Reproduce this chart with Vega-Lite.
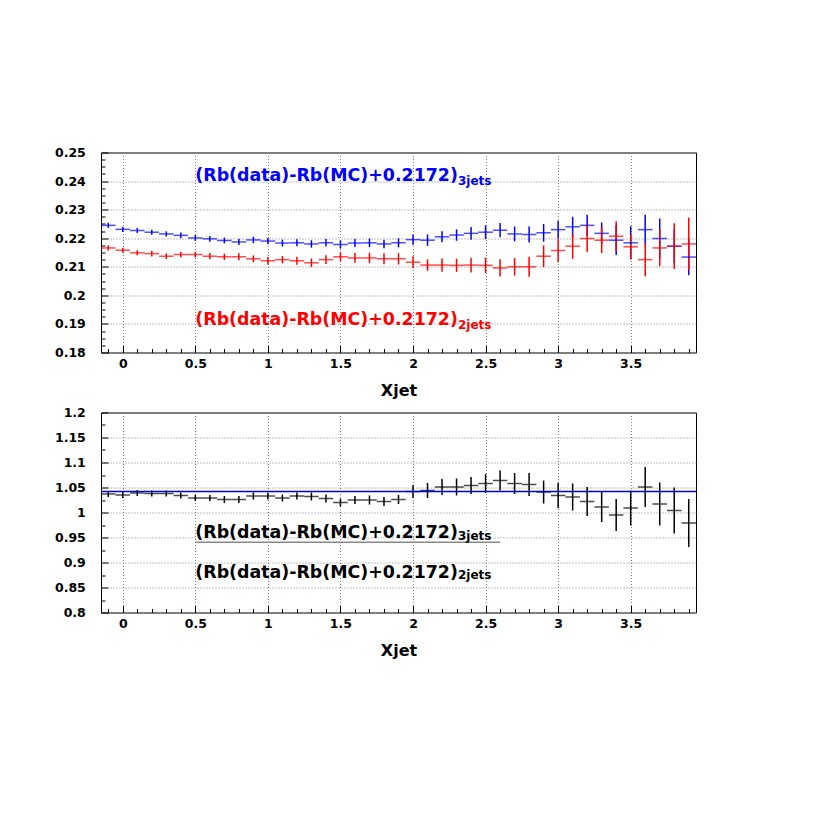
{
  "$schema": "https://vega.github.io/schema/vega-lite/v6.json",
  "background": "white",
  "padding": {"left": 53, "top": 145.5, "right": 5, "bottom": 5},
  "spacing": 60,
  "bounds": "flush",
  "config": {
    "view": {"stroke": "black", "strokeWidth": 1},
    "axis": {
      "domain": false,
      "labelFont": "DejaVu Sans",
      "labelFontWeight": "bold",
      "labelFontSize": 12.5,
      "labelColor": "black",
      "tickColor": "black",
      "tickWidth": 1,
      "gridColor": "#808080",
      "gridDash": [1, 2],
      "gridWidth": 1,
      "titleFont": "DejaVu Sans",
      "titleFontWeight": "bold",
      "titleFontSize": 16,
      "titleColor": "black",
      "labelOverlap": false,
      "labelBound": false,
      "labelFlush": false,
      "format": "~g"
    }
  },
  "datasets": {
    "top": [
      {"x": -0.1, "s": "3jets", "y": 0.2245, "e": 0.0009},
      {"x": 0.0, "s": "3jets", "y": 0.2231, "e": 0.0009},
      {"x": 0.1, "s": "3jets", "y": 0.2227, "e": 0.0009},
      {"x": 0.2, "s": "3jets", "y": 0.2221, "e": 0.0009},
      {"x": 0.3, "s": "3jets", "y": 0.2215, "e": 0.0009},
      {"x": 0.4, "s": "3jets", "y": 0.2210, "e": 0.001},
      {"x": 0.5, "s": "3jets", "y": 0.2201, "e": 0.001},
      {"x": 0.6, "s": "3jets", "y": 0.2198, "e": 0.001},
      {"x": 0.7, "s": "3jets", "y": 0.2192, "e": 0.001},
      {"x": 0.8, "s": "3jets", "y": 0.2187, "e": 0.0011},
      {"x": 0.9, "s": "3jets", "y": 0.2194, "e": 0.0011},
      {"x": 1.0, "s": "3jets", "y": 0.2190, "e": 0.0011},
      {"x": 1.1, "s": "3jets", "y": 0.2183, "e": 0.0012},
      {"x": 1.2, "s": "3jets", "y": 0.2184, "e": 0.0012},
      {"x": 1.3, "s": "3jets", "y": 0.2180, "e": 0.0013},
      {"x": 1.4, "s": "3jets", "y": 0.2184, "e": 0.0013},
      {"x": 1.5, "s": "3jets", "y": 0.2178, "e": 0.0014},
      {"x": 1.6, "s": "3jets", "y": 0.2183, "e": 0.0014},
      {"x": 1.7, "s": "3jets", "y": 0.2184, "e": 0.0015},
      {"x": 1.8, "s": "3jets", "y": 0.2180, "e": 0.0015},
      {"x": 1.9, "s": "3jets", "y": 0.2184, "e": 0.0016},
      {"x": 2.0, "s": "3jets", "y": 0.2195, "e": 0.0018},
      {"x": 2.1, "s": "3jets", "y": 0.2193, "e": 0.002},
      {"x": 2.2, "s": "3jets", "y": 0.2205, "e": 0.0019},
      {"x": 2.3, "s": "3jets", "y": 0.2211, "e": 0.002},
      {"x": 2.4, "s": "3jets", "y": 0.2217, "e": 0.0022},
      {"x": 2.5, "s": "3jets", "y": 0.2221, "e": 0.0024},
      {"x": 2.6, "s": "3jets", "y": 0.2228, "e": 0.0025},
      {"x": 2.7, "s": "3jets", "y": 0.2215, "e": 0.0026},
      {"x": 2.8, "s": "3jets", "y": 0.2213, "e": 0.0028},
      {"x": 2.9, "s": "3jets", "y": 0.2219, "e": 0.0031},
      {"x": 3.0, "s": "3jets", "y": 0.2230, "e": 0.0031},
      {"x": 3.1, "s": "3jets", "y": 0.2240, "e": 0.0035},
      {"x": 3.2, "s": "3jets", "y": 0.2245, "e": 0.0037},
      {"x": 3.3, "s": "3jets", "y": 0.2217, "e": 0.0038},
      {"x": 3.4, "s": "3jets", "y": 0.2193, "e": 0.0052},
      {"x": 3.5, "s": "3jets", "y": 0.2184, "e": 0.0058},
      {"x": 3.6, "s": "3jets", "y": 0.2230, "e": 0.0052},
      {"x": 3.7, "s": "3jets", "y": 0.2199, "e": 0.007},
      {"x": 3.8, "s": "3jets", "y": 0.2172, "e": 0.0058},
      {"x": 3.9, "s": "3jets", "y": 0.2134, "e": 0.0063},
      {"x": -0.1, "s": "2jets", "y": 0.2166, "e": 0.0009},
      {"x": 0.0, "s": "2jets", "y": 0.2158, "e": 0.0009},
      {"x": 0.1, "s": "2jets", "y": 0.2149, "e": 0.0009},
      {"x": 0.2, "s": "2jets", "y": 0.2146, "e": 0.001},
      {"x": 0.3, "s": "2jets", "y": 0.2137, "e": 0.001},
      {"x": 0.4, "s": "2jets", "y": 0.2143, "e": 0.001},
      {"x": 0.5, "s": "2jets", "y": 0.2143, "e": 0.001},
      {"x": 0.6, "s": "2jets", "y": 0.2137, "e": 0.0011},
      {"x": 0.7, "s": "2jets", "y": 0.2135, "e": 0.0011},
      {"x": 0.8, "s": "2jets", "y": 0.2135, "e": 0.0012},
      {"x": 0.9, "s": "2jets", "y": 0.2128, "e": 0.0012},
      {"x": 1.0, "s": "2jets", "y": 0.2121, "e": 0.0013},
      {"x": 1.1, "s": "2jets", "y": 0.2125, "e": 0.0013},
      {"x": 1.2, "s": "2jets", "y": 0.2121, "e": 0.0014},
      {"x": 1.3, "s": "2jets", "y": 0.2114, "e": 0.0015},
      {"x": 1.4, "s": "2jets", "y": 0.2125, "e": 0.0015},
      {"x": 1.5, "s": "2jets", "y": 0.2135, "e": 0.0016},
      {"x": 1.6, "s": "2jets", "y": 0.2131, "e": 0.0017},
      {"x": 1.7, "s": "2jets", "y": 0.2131, "e": 0.0018},
      {"x": 1.8, "s": "2jets", "y": 0.2128, "e": 0.0019},
      {"x": 1.9, "s": "2jets", "y": 0.2128, "e": 0.002},
      {"x": 2.0, "s": "2jets", "y": 0.2116, "e": 0.0021},
      {"x": 2.1, "s": "2jets", "y": 0.2106, "e": 0.002},
      {"x": 2.2, "s": "2jets", "y": 0.2106, "e": 0.0023},
      {"x": 2.3, "s": "2jets", "y": 0.2105, "e": 0.0023},
      {"x": 2.4, "s": "2jets", "y": 0.2106, "e": 0.0026},
      {"x": 2.5, "s": "2jets", "y": 0.2105, "e": 0.0027},
      {"x": 2.6, "s": "2jets", "y": 0.2096, "e": 0.003},
      {"x": 2.7, "s": "2jets", "y": 0.2100, "e": 0.0031},
      {"x": 2.8, "s": "2jets", "y": 0.2100, "e": 0.0035},
      {"x": 2.9, "s": "2jets", "y": 0.2137, "e": 0.0038},
      {"x": 3.0, "s": "2jets", "y": 0.2157, "e": 0.0041},
      {"x": 3.1, "s": "2jets", "y": 0.2172, "e": 0.0044},
      {"x": 3.2, "s": "2jets", "y": 0.2199, "e": 0.0047},
      {"x": 3.3, "s": "2jets", "y": 0.2193, "e": 0.0045},
      {"x": 3.4, "s": "2jets", "y": 0.2207, "e": 0.0052},
      {"x": 3.5, "s": "2jets", "y": 0.2170, "e": 0.0044},
      {"x": 3.6, "s": "2jets", "y": 0.2125, "e": 0.0058},
      {"x": 3.7, "s": "2jets", "y": 0.2166, "e": 0.0064},
      {"x": 3.8, "s": "2jets", "y": 0.2172, "e": 0.008},
      {"x": 3.9, "s": "2jets", "y": 0.2180, "e": 0.0092}
    ],
    "ratio": [
      {"x": -0.1, "y": 1.037, "e": 0.006},
      {"x": 0.0, "y": 1.035, "e": 0.006},
      {"x": 0.1, "y": 1.039, "e": 0.006},
      {"x": 0.2, "y": 1.038, "e": 0.006},
      {"x": 0.3, "y": 1.038, "e": 0.006},
      {"x": 0.4, "y": 1.034, "e": 0.006},
      {"x": 0.5, "y": 1.029, "e": 0.006},
      {"x": 0.6, "y": 1.029, "e": 0.006},
      {"x": 0.7, "y": 1.026, "e": 0.007},
      {"x": 0.8, "y": 1.026, "e": 0.007},
      {"x": 0.9, "y": 1.033, "e": 0.007},
      {"x": 1.0, "y": 1.033, "e": 0.007},
      {"x": 1.1, "y": 1.029, "e": 0.007},
      {"x": 1.2, "y": 1.033, "e": 0.007},
      {"x": 1.3, "y": 1.032, "e": 0.008},
      {"x": 1.4, "y": 1.028, "e": 0.008},
      {"x": 1.5, "y": 1.020, "e": 0.008},
      {"x": 1.6, "y": 1.025, "e": 0.008},
      {"x": 1.7, "y": 1.025, "e": 0.009},
      {"x": 1.8, "y": 1.022, "e": 0.009},
      {"x": 1.9, "y": 1.026, "e": 0.009},
      {"x": 2.0, "y": 1.042, "e": 0.013},
      {"x": 2.1, "y": 1.044, "e": 0.015},
      {"x": 2.2, "y": 1.051, "e": 0.016},
      {"x": 2.3, "y": 1.051, "e": 0.017},
      {"x": 2.4, "y": 1.054, "e": 0.017},
      {"x": 2.5, "y": 1.058, "e": 0.019},
      {"x": 2.6, "y": 1.064, "e": 0.02},
      {"x": 2.7, "y": 1.058, "e": 0.021},
      {"x": 2.8, "y": 1.056, "e": 0.023},
      {"x": 2.9, "y": 1.041, "e": 0.023},
      {"x": 3.0, "y": 1.034, "e": 0.025},
      {"x": 3.1, "y": 1.031, "e": 0.027},
      {"x": 3.2, "y": 1.022, "e": 0.029},
      {"x": 3.3, "y": 1.011, "e": 0.03},
      {"x": 3.4, "y": 0.995, "e": 0.032},
      {"x": 3.5, "y": 1.009, "e": 0.035},
      {"x": 3.6, "y": 1.051, "e": 0.04},
      {"x": 3.7, "y": 1.017, "e": 0.043},
      {"x": 3.8, "y": 1.004, "e": 0.046},
      {"x": 3.9, "y": 0.979, "e": 0.048}
    ]
  },
  "vconcat": [
    {
      "width": 595,
      "height": 200,
      "resolve": {"axis": {"x": "independent", "y": "independent"}},
      "layer": [
        {
          "data": {"name": "top"},
          "mark": {"type": "errorbar", "thickness": 1.5},
          "encoding": {
            "x": {
              "field": "x", "type": "quantitative",
              "scale": {"domain": [-0.15, 3.95], "nice": false, "zero": false},
              "axis": {"orient": "bottom", "title": "Xjet", "titlePadding": 12, "labelPadding": 12, "tickSize": -7, "grid": true,
                "values": [0, 0.5, 1, 1.5, 2, 2.5, 3, 3.5]}
            },
            "y": {
              "field": "y", "type": "quantitative",
              "scale": {"domain": [0.18, 0.25], "nice": false, "zero": false},
              "axis": {"orient": "left", "title": null, "labelPadding": 22.7, "tickSize": -7, "grid": true,
                "values": [0.18, 0.19, 0.2, 0.21, 0.22, 0.23, 0.24, 0.25]}
            },
            "yError": {"field": "e"},
            "color": {"field": "s", "type": "nominal", "scale": {"domain": ["3jets", "2jets"], "range": ["#0000ff", "#ff0000"]}, "legend": null}
          }
        },
        {
          "data": {"name": "top"},
          "mark": {"type": "tick", "orient": "horizontal", "size": 14.5, "thickness": 1.5},
          "encoding": {
            "x": {"field": "x", "type": "quantitative",
              "axis": {"orient": "bottom", "title": null, "labels": false, "grid": false, "tickSize": -4,
                "values": [-0.1, 0.1, 0.2, 0.3, 0.4, 0.6, 0.7, 0.8, 0.9, 1.1, 1.2, 1.3, 1.4, 1.6, 1.7, 1.8, 1.9, 2.1, 2.2, 2.3, 2.4, 2.6, 2.7, 2.8, 2.9, 3.1, 3.2, 3.3, 3.4, 3.6, 3.7, 3.8, 3.9]}},
            "y": {"field": "y", "type": "quantitative",
              "axis": {"orient": "left", "title": null, "labels": false, "grid": false, "tickSize": -4,
                "values": [0.1825, 0.185, 0.1875, 0.1925, 0.195, 0.1975, 0.2025, 0.205, 0.2075, 0.2125, 0.215, 0.2175, 0.2225, 0.225, 0.2275, 0.2325, 0.235, 0.2375, 0.2425, 0.245, 0.2475]}},
            "color": {"field": "s", "type": "nominal", "legend": null}
          }
        },
        {
          "data": {"values": [{"x": 0.5, "y": 0.24, "t": "(Rb(data)-Rb(MC)+0.2172)"}]},
          "mark": {"type": "text", "align": "left", "baseline": "alphabetic", "font": "DejaVu Sans", "fontWeight": "bold", "fontSize": 17.4, "color": "#0000ff"},
          "encoding": {"x": {"field": "x", "type": "quantitative", "axis": null}, "y": {"field": "y", "type": "quantitative", "axis": null}, "text": {"field": "t"}}
        },
        {
          "data": {"values": [{"x": 2.31, "y": 0.2385, "t": "3jets"}]},
          "mark": {"type": "text", "align": "left", "baseline": "alphabetic", "font": "DejaVu Sans", "fontWeight": "bold", "fontSize": 12, "color": "#0000ff"},
          "encoding": {"x": {"field": "x", "type": "quantitative", "axis": null}, "y": {"field": "y", "type": "quantitative", "axis": null}, "text": {"field": "t"}}
        },
        {
          "data": {"values": [{"x": 0.5, "y": 0.1896, "t": "(Rb(data)-Rb(MC)+0.2172)"}]},
          "mark": {"type": "text", "align": "left", "baseline": "alphabetic", "font": "DejaVu Sans", "fontWeight": "bold", "fontSize": 17.4, "color": "#ff0000"},
          "encoding": {"x": {"field": "x", "type": "quantitative", "axis": null}, "y": {"field": "y", "type": "quantitative", "axis": null}, "text": {"field": "t"}}
        },
        {
          "data": {"values": [{"x": 2.31, "y": 0.1883, "t": "2jets"}]},
          "mark": {"type": "text", "align": "left", "baseline": "alphabetic", "font": "DejaVu Sans", "fontWeight": "bold", "fontSize": 12, "color": "#ff0000"},
          "encoding": {"x": {"field": "x", "type": "quantitative", "axis": null}, "y": {"field": "y", "type": "quantitative", "axis": null}, "text": {"field": "t"}}
        }
      ]
    },
    {
      "width": 595,
      "height": 200,
      "resolve": {"axis": {"x": "independent", "y": "independent"}},
      "layer": [
        {
          "data": {"name": "ratio"},
          "mark": {"type": "errorbar", "thickness": 1.5, "color": "black"},
          "encoding": {
            "x": {
              "field": "x", "type": "quantitative",
              "scale": {"domain": [-0.15, 3.95], "nice": false, "zero": false},
              "axis": {"orient": "bottom", "title": "Xjet", "titlePadding": 12, "labelPadding": 12, "tickSize": -7, "grid": true,
                "values": [0, 0.5, 1, 1.5, 2, 2.5, 3, 3.5]}
            },
            "y": {
              "field": "y", "type": "quantitative",
              "scale": {"domain": [0.8, 1.2], "nice": false, "zero": false},
              "axis": {"orient": "left", "title": null, "labelPadding": 22.7, "tickSize": -7, "grid": true,
                "values": [0.8, 0.85, 0.9, 0.95, 1, 1.05, 1.1, 1.15, 1.2]}
            },
            "yError": {"field": "e"}
          }
        },
        {
          "data": {"name": "ratio"},
          "mark": {"type": "tick", "orient": "horizontal", "size": 14.5, "thickness": 1.5, "color": "black"},
          "encoding": {
            "x": {"field": "x", "type": "quantitative",
              "axis": {"orient": "bottom", "title": null, "labels": false, "grid": false, "tickSize": -4,
                "values": [-0.1, 0.1, 0.2, 0.3, 0.4, 0.6, 0.7, 0.8, 0.9, 1.1, 1.2, 1.3, 1.4, 1.6, 1.7, 1.8, 1.9, 2.1, 2.2, 2.3, 2.4, 2.6, 2.7, 2.8, 2.9, 3.1, 3.2, 3.3, 3.4, 3.6, 3.7, 3.8, 3.9]}},
            "y": {"field": "y", "type": "quantitative",
              "axis": {"orient": "left", "title": null, "labels": false, "grid": false, "tickSize": -4,
                "values": [0.825, 0.875, 0.925, 0.975, 1.025, 1.075, 1.125, 1.175]}}
          }
        },
        {
          "data": {"values": [{"x": -0.15, "x2": 3.95, "y": 1.042}]},
          "mark": {"type": "rule", "color": "#0000dd", "strokeWidth": 1.5},
          "encoding": {"x": {"field": "x", "type": "quantitative", "axis": null}, "x2": {"field": "x2"}, "y": {"field": "y", "type": "quantitative", "axis": null}}
        },
        {
          "data": {"values": [{"x": 0.5, "x2": 2.6, "y": 0.9404}]},
          "mark": {"type": "rule", "color": "#888888", "strokeWidth": 1.5},
          "encoding": {"x": {"field": "x", "type": "quantitative", "axis": null}, "x2": {"field": "x2"}, "y": {"field": "y", "type": "quantitative", "axis": null}}
        },
        {
          "data": {"values": [{"x": 0.5, "y": 0.95, "t": "(Rb(data)-Rb(MC)+0.2172)"}, {"x": 0.5, "y": 0.87, "t": "(Rb(data)-Rb(MC)+0.2172)"}]},
          "mark": {"type": "text", "align": "left", "baseline": "alphabetic", "font": "DejaVu Sans", "fontWeight": "bold", "fontSize": 17.4, "color": "black"},
          "encoding": {"x": {"field": "x", "type": "quantitative", "axis": null}, "y": {"field": "y", "type": "quantitative", "axis": null}, "text": {"field": "t"}}
        },
        {
          "data": {"values": [{"x": 2.31, "y": 0.9455, "t": "3jets"}, {"x": 2.31, "y": 0.867, "t": "2jets"}]},
          "mark": {"type": "text", "align": "left", "baseline": "alphabetic", "font": "DejaVu Sans", "fontWeight": "bold", "fontSize": 12, "color": "black"},
          "encoding": {"x": {"field": "x", "type": "quantitative", "axis": null}, "y": {"field": "y", "type": "quantitative", "axis": null}, "text": {"field": "t"}}
        }
      ]
    }
  ]
}
